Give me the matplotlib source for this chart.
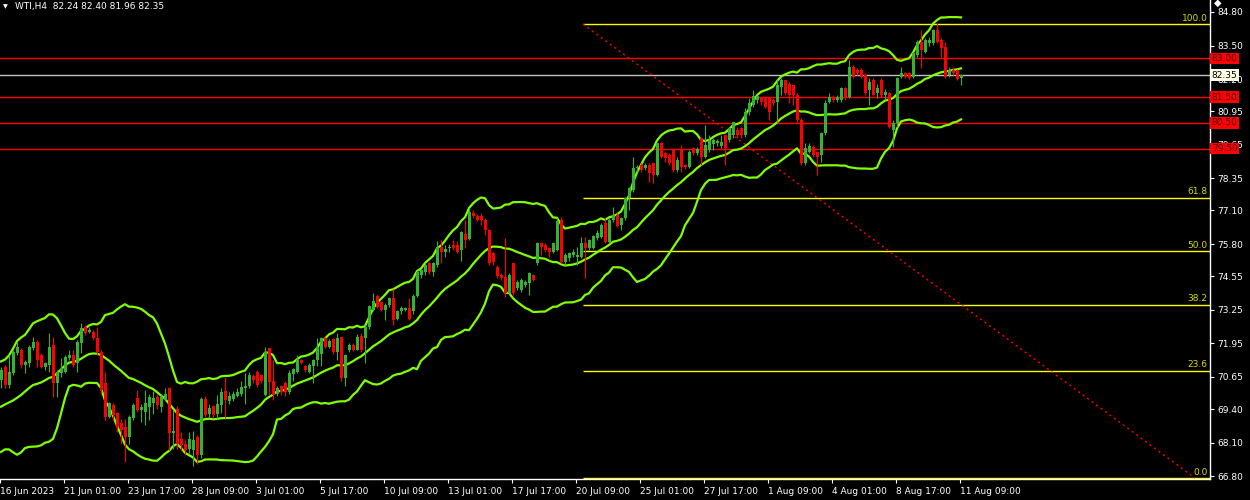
import numpy as np
import pandas as pd
import matplotlib

matplotlib.use("Agg")
from matplotlib import pyplot as plt
from matplotlib.transforms import blended_transform_factory

# WTI, H4 candles (16 Jun 2023 -> 11 Aug 2023)
opens = [
    70.53, 71.04, 70.33, 70.78, 71.56, 71.69, 71.11, 71.17, 71.76, 72.01,
    71.50, 71.04, 71.11, 71.88, 70.40, 70.78, 70.85, 71.37, 71.50, 71.17,
    71.95, 72.60, 72.40, 72.40, 72.14, 71.62, 70.39, 69.10, 69.55, 69.23,
    68.84, 68.71, 68.32, 69.04, 69.81, 69.38, 69.29, 69.49, 69.62, 69.88,
    69.49, 69.75, 70.20, 68.45, 69.40, 68.25, 68.05, 67.85, 67.80, 68.30,
    67.60, 69.80, 69.20, 69.50, 69.20, 69.55, 70.10, 69.70, 69.80, 69.90,
    70.00, 70.20, 70.30, 70.68, 70.85, 70.70, 69.95, 71.75, 70.50, 70.00,
    70.30, 70.40, 70.05, 70.75, 70.85, 71.30, 71.05, 70.85, 71.05, 71.30,
    71.55, 72.15, 71.80, 72.10, 71.60, 72.20, 70.60, 71.70, 71.90, 71.70,
    72.25, 72.15, 72.60, 73.25, 73.80, 73.55, 73.25, 73.45, 73.70, 72.90,
    73.20, 73.25, 73.30, 73.20, 73.80, 74.60, 74.70, 75.05, 74.70, 75.00,
    75.70, 75.50, 75.65, 75.75, 75.75, 75.55, 76.20, 76.00, 77.00, 76.90,
    76.90, 76.75, 76.35, 75.45, 74.90, 74.60, 74.53, 73.89, 75.05, 74.08,
    74.02, 74.21, 74.27, 74.60, 75.05, 75.83, 75.76, 75.63, 75.50, 75.57,
    76.73, 75.11, 75.24, 75.37, 75.31, 75.31, 75.83, 75.63, 75.63, 76.02,
    76.08, 76.63, 75.89, 76.73, 76.93, 76.54, 76.80, 77.57, 77.90, 78.74,
    78.86, 78.74, 78.86, 78.93, 78.48, 79.70, 79.32, 79.25, 79.45, 78.67,
    79.45, 78.86, 78.80, 79.51, 79.32, 79.90, 79.19, 79.45, 79.67, 79.70,
    79.60, 80.03, 79.84, 80.03, 80.22, 80.29, 80.03, 80.93, 81.19, 81.39,
    81.52, 81.45, 81.45, 81.39, 81.32, 81.90, 82.16, 82.00, 81.97, 81.58,
    80.61, 78.93, 79.38, 79.58, 79.38, 79.26, 80.09, 81.29, 81.52, 81.39,
    81.39, 81.84, 81.49, 82.68, 82.55, 82.55, 82.36, 81.77, 82.16, 81.65,
    82.16, 81.58, 81.65, 80.22, 80.48, 82.29, 82.42, 82.42, 82.29, 83.14,
    83.65, 83.26, 83.58, 83.58, 84.10, 83.71, 83.46, 82.36, 82.55, 82.55,
    82.24,
]
highs = [
    71.04, 71.11, 71.50, 71.69, 72.01, 71.76, 71.30, 71.88, 72.21, 72.08,
    71.56, 71.24, 72.34, 72.21, 70.91, 71.37, 71.50, 71.69, 71.69, 72.08,
    72.72, 72.66, 72.60, 72.47, 72.59, 71.70, 70.84, 69.69, 69.62, 69.29,
    69.03, 69.03, 69.16, 69.62, 70.14, 69.61, 70.13, 70.00, 70.10, 70.00,
    70.00, 70.20, 70.25, 69.35, 69.50, 68.50, 68.20, 68.50, 68.55, 68.40,
    69.85, 69.90, 69.60, 69.55, 69.95, 70.20, 70.65, 70.05, 70.10, 70.20,
    70.50, 70.80, 70.85, 70.75, 70.90, 70.75, 71.80, 71.75, 71.30, 70.30,
    70.35, 70.50, 70.90, 71.00, 71.50, 71.35, 71.10, 71.20, 71.35, 72.15,
    72.20, 72.20, 72.10, 72.15, 72.35, 72.20, 71.55, 71.95, 71.95, 72.30,
    72.35, 72.65, 73.45, 73.90, 73.85, 73.60, 73.50, 73.75, 74.05, 73.25,
    73.40, 73.35, 73.70, 73.85, 74.80, 74.85, 75.05, 75.10, 75.10, 75.90,
    75.95, 75.75, 75.80, 75.95, 75.90, 76.30, 76.75, 77.20, 77.10, 76.95,
    77.00, 76.80, 76.40, 75.50, 75.00, 74.66, 76.02, 74.66, 75.05, 74.40,
    74.47, 74.40, 74.73, 74.65, 75.89, 75.89, 75.83, 75.70, 75.89, 76.80,
    76.86, 75.44, 75.50, 75.60, 75.70, 76.08, 76.08, 76.00, 76.15, 76.35,
    76.60, 76.80, 76.80, 77.25, 77.00, 76.86, 77.64, 78.03, 79.19, 78.86,
    78.93, 78.93, 78.93, 79.00, 79.73, 79.77, 79.38, 79.32, 79.48, 79.19,
    79.64, 78.90, 79.45, 79.55, 79.58, 79.96, 80.42, 80.03, 79.90, 79.88,
    80.03, 80.03, 80.35, 80.55, 80.35, 80.35, 81.06, 81.45, 81.77, 81.58,
    81.52, 81.52, 81.52, 81.45, 82.16, 82.23, 82.16, 82.10, 81.97, 81.65,
    80.70, 79.71, 79.71, 79.64, 79.40, 80.16, 81.39, 81.65, 81.58, 81.58,
    81.90, 81.90, 82.94, 82.75, 82.62, 82.62, 82.42, 82.23, 82.23, 82.00,
    82.23, 81.80, 81.71, 80.61, 82.29, 82.68, 82.49, 82.49, 83.26, 83.71,
    84.10, 83.78, 83.84, 84.13, 84.36, 83.78, 83.65, 82.68, 82.68, 82.60,
    82.40,
]
lows = [
    70.20, 70.20, 70.20, 70.72, 71.50, 70.98, 70.78, 71.04, 71.69, 71.04,
    70.98, 70.91, 70.85, 69.88, 69.88, 70.66, 70.78, 71.30, 71.04, 70.85,
    71.56, 72.27, 72.34, 72.08, 71.49, 70.00, 68.97, 69.04, 68.97, 68.52,
    68.06, 67.35, 68.06, 68.97, 69.30, 68.90, 68.78, 68.97, 69.20, 69.40,
    69.30, 69.70, 67.80, 67.85, 67.85, 67.80, 67.60, 67.70, 67.20, 67.25,
    67.50, 69.10, 69.10, 69.05, 69.00, 69.25, 69.05, 69.60, 69.70, 69.85,
    69.90, 69.60, 70.20, 70.40, 70.25, 70.40, 69.90, 69.95, 69.75, 69.90,
    69.95, 69.90, 70.00, 70.50, 70.80, 71.15, 70.85, 70.80, 70.40, 71.05,
    71.05, 71.75, 71.75, 71.55, 71.30, 70.50, 70.30, 71.60, 71.65, 71.70,
    71.60, 71.20, 72.50, 73.20, 73.30, 73.20, 72.85, 73.35, 72.65, 72.85,
    73.10, 73.20, 72.85, 73.10, 73.75, 74.50, 74.60, 74.65, 74.55, 74.90,
    75.05, 75.30, 75.50, 75.55, 75.45, 75.15, 75.65, 75.95, 76.80, 76.70,
    76.55, 76.15, 75.00, 75.00, 74.50, 74.40, 73.76, 73.86, 73.82, 74.02,
    73.95, 74.15, 73.82, 74.35, 74.99, 75.37, 75.50, 75.31, 75.44, 75.54,
    75.05, 74.99, 75.15, 75.30, 74.99, 75.24, 74.47, 75.55, 75.60, 75.96,
    76.02, 75.85, 75.83, 76.67, 76.45, 76.34, 76.73, 77.12, 77.83, 78.60,
    78.60, 78.67, 78.22, 78.15, 78.44, 79.12, 78.99, 78.86, 78.60, 78.60,
    78.60, 78.70, 78.74, 79.25, 79.25, 78.86, 79.12, 79.38, 79.45, 79.60,
    79.51, 78.87, 79.77, 79.90, 79.90, 79.90, 79.96, 80.80, 81.13, 81.26,
    81.19, 81.06, 80.61, 81.19, 80.48, 81.58, 81.58, 81.26, 81.19, 80.48,
    78.87, 78.87, 79.32, 79.19, 78.47, 79.00, 80.03, 81.26, 81.32, 81.32,
    81.32, 81.39, 81.45, 82.23, 82.36, 82.23, 81.58, 81.20, 81.58, 81.45,
    81.52, 81.40, 80.29, 79.58, 80.35, 82.23, 82.23, 82.20, 82.23, 83.07,
    82.62, 83.20, 83.50, 83.52, 83.58, 83.07, 82.23, 82.29, 82.36, 82.16,
    81.96,
]
closes = [
    70.91, 70.33, 70.85, 71.63, 71.82, 71.11, 71.24, 71.82, 72.01, 71.30,
    71.04, 71.17, 71.82, 70.40, 70.85, 70.98, 71.43, 71.50, 71.11, 72.01,
    72.53, 72.34, 72.47, 72.14, 71.62, 70.13, 69.10, 69.62, 69.16, 68.71,
    68.58, 68.32, 69.10, 69.56, 69.36, 69.49, 69.62, 69.88, 69.81, 69.55,
    69.88, 70.00, 68.45, 68.55, 68.05, 68.00, 67.80, 68.25, 68.20, 67.60,
    69.80, 69.15, 69.45, 69.15, 69.60, 70.05, 69.75, 69.90, 70.00, 70.05,
    70.25, 70.30, 70.70, 70.52, 70.35, 70.50, 71.60, 70.45, 69.95, 70.20,
    70.05, 70.05, 70.80, 70.95, 71.30, 71.20, 70.90, 71.10, 71.30, 71.80,
    72.15, 71.80, 72.05, 71.60, 72.15, 70.60, 71.50, 71.90, 71.70, 72.20,
    71.70, 72.60, 73.40, 73.60, 73.35, 73.25, 73.45, 73.70, 72.85, 73.20,
    73.30, 73.30, 72.90, 73.80, 74.70, 74.80, 75.00, 74.70, 75.05, 75.70,
    75.50, 75.60, 75.70, 75.65, 75.50, 76.25, 75.95, 77.05, 76.90, 76.75,
    76.75, 76.35, 75.05, 75.10, 74.55, 74.47, 73.89, 74.60, 73.89, 74.34,
    74.40, 74.34, 74.66, 74.40, 75.83, 75.70, 75.57, 75.50, 75.83, 76.70,
    75.11, 75.37, 75.44, 75.50, 75.37, 75.83, 75.63, 75.96, 76.11, 76.24,
    76.54, 75.89, 76.73, 76.93, 76.50, 76.80, 77.57, 77.96, 78.74, 78.80,
    78.67, 78.86, 78.54, 78.48, 79.70, 79.19, 79.12, 78.93, 78.67, 79.06,
    78.80, 78.80, 79.38, 79.32, 79.48, 79.19, 79.64, 79.84, 79.84, 79.80,
    79.74, 79.51, 80.29, 80.55, 80.03, 80.03, 80.93, 81.26, 81.54, 81.54,
    81.32, 81.13, 80.93, 81.26, 81.97, 82.16, 81.65, 81.58, 81.58, 80.61,
    78.93, 79.52, 79.61, 79.26, 79.19, 80.09, 81.26, 81.52, 81.39, 81.52,
    81.84, 81.45, 82.68, 82.29, 82.42, 82.29, 81.65, 82.10, 81.58, 81.84,
    81.58, 81.70, 80.35, 80.48, 82.23, 82.42, 82.29, 82.23, 83.20, 83.65,
    83.33, 83.71, 83.71, 84.10, 83.65, 83.39, 82.29, 82.55, 82.42, 82.20,
    82.35,
]
# closes of the bars just left of the window (only seed the bands)
pre_closes = [68.6, 69.3, 70.1, 69.8, 68.9, 68.5, 69.2, 69.6, 70.4, 70.0,
              69.5, 70.0, 69.4, 68.2, 68.0, 68.4, 69.2, 70.6, 71.2]

time_labels = ["16 Jun 2023", "21 Jun 01:00", "23 Jun 17:00", "28 Jun 09:00",
               "3 Jul 01:00", "5 Jul 17:00", "10 Jul 09:00", "13 Jul 01:00",
               "17 Jul 17:00", "20 Jul 09:00", "25 Jul 01:00", "27 Jul 17:00",
               "1 Aug 09:00", "4 Aug 01:00", "8 Aug 17:00", "11 Aug 09:00"]
label_step = 16  # bars between time labels

price_ticks = [84.80, 83.50, 82.20, 80.95, 79.65, 78.35, 77.10, 75.80,
               74.55, 73.25, 71.95, 70.65, 69.40, 68.10, 66.80]
level_lines = [83.00, 81.50, 80.50, 79.50]
last_price = 82.35
header = "WTI,H4  82.24 82.40 81.96 82.35"

fib_levels = [0.0, 23.6, 38.2, 50.0, 61.8, 100.0]
fib_low, fib_high = 66.72, 84.33
fib_start_bar, fib_end_bar = 145.5, 298.5

bb_period = 20
bb_dev = 2.0

# colours
bg = "black"
up_col = "#33B533"
down_col = "#FF0000"
band_col = "#7FFF00"
fib_col = "#FFFF00"
fg = "white"
font = "DejaVu Sans"

# Bollinger bands --------------------------------
s = pd.Series(pre_closes + closes)
mid = s.rolling(bb_period).mean()
sd = s.rolling(bb_period).std(ddof=0)
n_pre = len(pre_closes)
mid = mid.values[n_pre:]
upper = mid + bb_dev * sd.values[n_pre:]
lower = mid - bb_dev * sd.values[n_pre:]

o = np.array(opens)
h = np.array(highs)
l = np.array(lows)
c = np.array(closes)
x = np.arange(len(c))
bull = c >= o

fig = plt.figure(figsize=(12.5, 5), dpi=100, facecolor=bg)
ax = fig.add_axes([0, 21 / 500, 1210 / 1250, 479 / 500])
ax.set_facecolor(bg)
ax.set_xlim(-0.25, 302.25)
ax.set_ylim(66.685, 85.265)

# horizontal levels
for lv in level_lines:
    ax.axhline(lv, color="#FF0000", lw=1.0, zorder=1)
ax.axhline(last_price, color="#C0C0C0", lw=1.0, zorder=1)

# fibonacci retracement
for lev in fib_levels:
    price = fib_low + (fib_high - fib_low) * lev / 100.0
    ax.hlines(price, fib_start_bar, 302.25, color=fib_col, lw=1.0, zorder=1)
    ax.text(301.6, price + 0.06, "%.1f" % lev, color="#DADA00", fontsize=6.5,
            family=font, ha="right", va="bottom", zorder=5)
ax.plot([fib_start_bar, fib_end_bar], [fib_high, fib_low], color="#FF0000",
        lw=1.0, ls=(0, (1.5, 2.5)), zorder=1)

# bands
ax.plot(x, upper, color=band_col, lw=1.6, zorder=2)
ax.plot(x, mid, color=band_col, lw=1.6, zorder=2)
ax.plot(x, lower, color=band_col, lw=1.6, zorder=2)

# candles
cols = np.where(bull, up_col, down_col)
ax.vlines(x, l, h, colors=cols, lw=0.8, zorder=3)
body = np.maximum(np.abs(c - o), 0.035)
ax.bar(x, body, bottom=np.minimum(o, c), width=0.75, color=cols,
       linewidth=0, zorder=4)

# axes look ------------------------------------
for sp in ["left", "top"]:
    ax.spines[sp].set_visible(False)
for sp in ["right", "bottom"]:
    ax.spines[sp].set_color(fg)
    ax.spines[sp].set_linewidth(1.0)

ax.yaxis.tick_right()
ax.set_yticks(price_ticks)
ax.set_yticklabels(["%.2f" % p for p in price_ticks])
ax.tick_params(axis="y", colors=fg, labelcolor=fg, length=3, width=0.8,
               pad=2, labelsize=6.5)

tick_bars = [i * label_step - 0.25 for i in range(len(time_labels))]
ax.set_xticks(tick_bars)
ax.set_xticklabels(time_labels)
ax.tick_params(axis="x", colors=fg, labelcolor=fg, length=3, width=0.8,
               pad=3, labelsize=6.5)
for lab in ax.get_xticklabels() + ax.get_yticklabels():
    lab.set_family(font)
for lab in ax.get_xticklabels():
    lab.set_ha("left")

# price boxes on the right axis
tr = blended_transform_factory(ax.transAxes, ax.transData)
for lv in level_lines:
    ax.text(1.0015, lv, "%.2f" % lv, transform=tr, fontsize=6.5, family=font,
            color="#4A0000", ha="left", va="center", zorder=10, clip_on=False,
            bbox=dict(boxstyle="square,pad=0.15", fc="#FF0000", ec="none"))
ax.text(1.0015, last_price, "%.2f" % last_price, transform=tr, fontsize=6.5,
        family=font, color="black", ha="left", va="center", zorder=10,
        clip_on=False,
        bbox=dict(boxstyle="square,pad=0.15", fc="#FFFFE6", ec="none"))

# header
fig.text(3 / 1250, 1 - 7 / 500, "\u25BC", color=fg, fontsize=4.5, family=font,
         va="center", ha="left")
fig.text(15 / 1250, 1 - 7 / 500, header, color=fg, fontsize=6.5, family=font,
         va="center", ha="left")
fig.text(1218 / 1250, 1 - 3 / 500, "\u25C6", color=fg, fontsize=7,
         family=font, va="center", ha="center")

plt.savefig("out.png", dpi=100, facecolor=bg)
